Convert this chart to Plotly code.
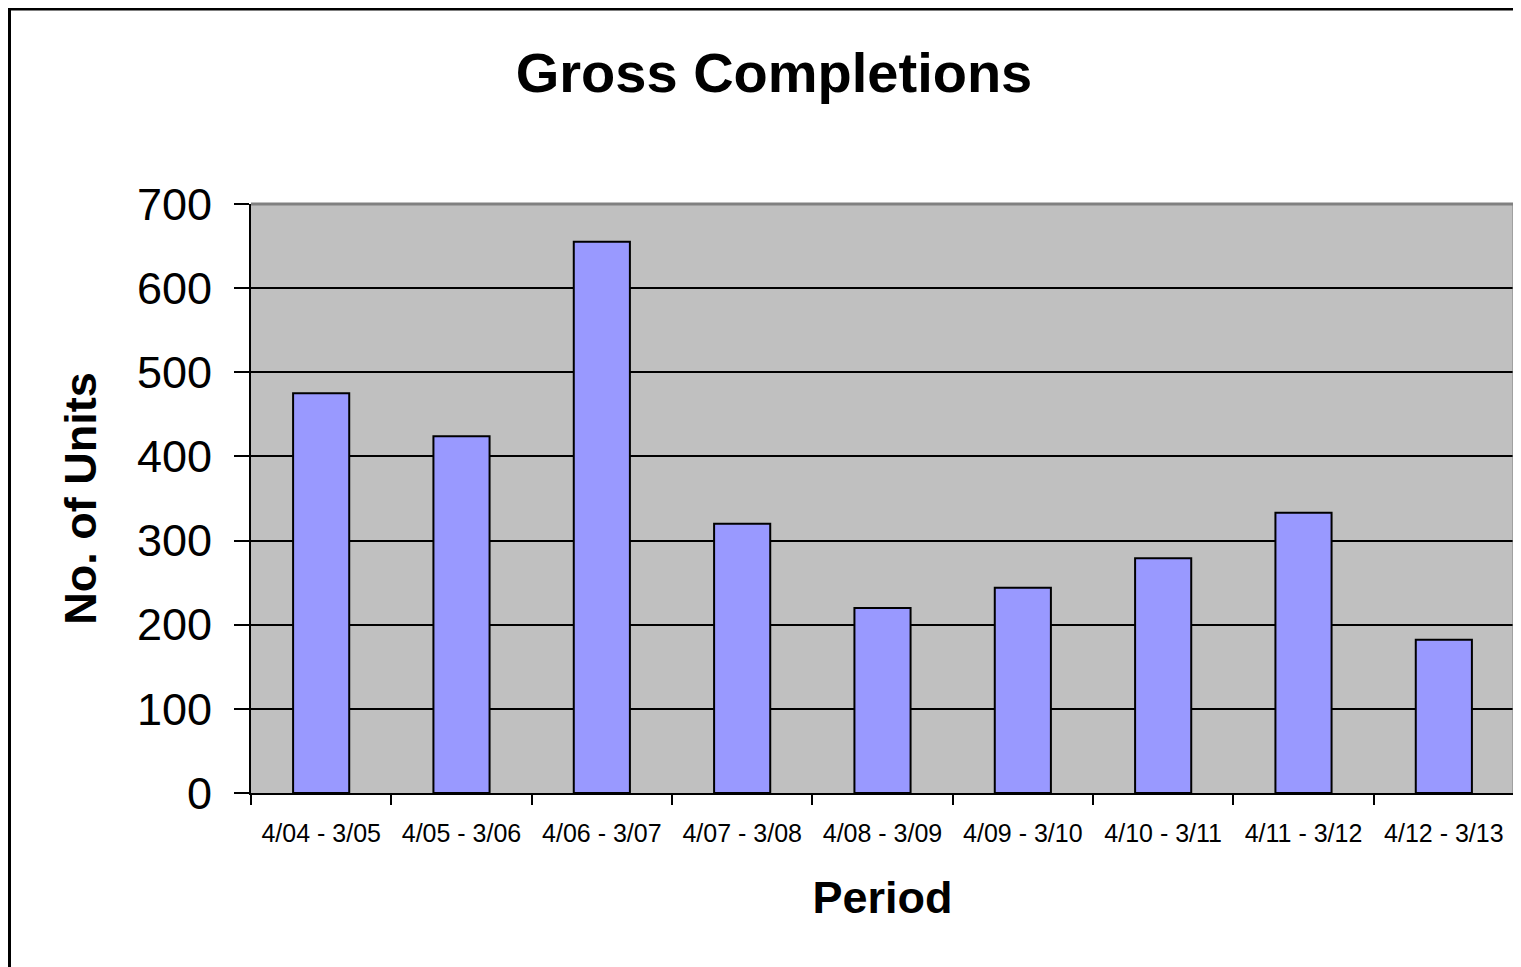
import plotly.graph_objects as go

periods = ["4/04 - 3/05", "4/05 - 3/06", "4/06 - 3/07", "4/07 - 3/08", "4/08 - 3/09",
           "4/09 - 3/10", "4/10 - 3/11", "4/11 - 3/12", "4/12 - 3/13"]
units = [475, 424, 655, 320, 220, 244, 279, 333, 182]
y_ticks = [0, 100, 200, 300, 400, 500, 600, 700]

FONT = "Arial, Liberation Sans, sans-serif"
W, H = 1513, 959  # page body has an 8px margin

fig = go.Figure()
fig.add_trace(go.Bar(
    x=periods, y=units,
    marker=dict(color="#9999FF", line=dict(color="black", width=2)),
    width=0.4,
))

fig.update_layout(
    width=W, height=H,
    margin=dict(l=243, r=7, t=196, b=174),
    paper_bgcolor="white",
    plot_bgcolor="#C0C0C0",
    showlegend=False,
    font=dict(family=FONT, color="black"),
    title=dict(text="<b>Gross Completions</b>", font=dict(size=56, family=FONT, color="black"),
               x=766 / W, xref="container", xanchor="center",
               y=1 - 64 / H, yref="container", yanchor="middle"),
    bargap=0.6,
)

fig.update_xaxes(
    type="category",
    showline=True, linecolor="black", linewidth=2,
    ticks="outside", ticklen=10, tickwidth=2, tickcolor="black",
    tickson="boundaries",
    tickfont=dict(size=25, family=FONT, color="black"),
    ticklabelstandoff=17,
    showgrid=False,
    title=dict(text="<b>Period</b>", font=dict(size=45, family=FONT, color="black"), standoff=35),
)
fig.update_yaxes(
    range=[0, 700],
    tickvals=y_ticks,
    showline=True, linecolor="black", linewidth=2,
    ticks="outside", ticklen=15, tickwidth=2, tickcolor="black",
    tickfont=dict(size=45, family=FONT, color="black"),
    ticklabelstandoff=13,
    showgrid=True, gridcolor="black", gridwidth=2,
    zeroline=False,
    title=dict(text="<b>No. of Units</b>", font=dict(size=45, family=FONT, color="black"), standoff=26),
)

pw, ph = W - 243 - 7, H - 196 - 174
# top and right plot-area border in gray
fig.add_shape(type="line", xref="paper", yref="paper", x0=0, x1=1, y0=1, y1=1,
              line=dict(color="#808080", width=3), layer="above")
fig.add_shape(type="line", xref="paper", yref="paper", x0=1, x1=1, y0=0, y1=1,
              line=dict(color="#808080", width=3), layer="above")
# chart outer border
fig.add_shape(type="rect", xref="paper", yref="paper",
              x0=(1.5 - 243) / pw, x1=1.2, y0=-0.5, y1=1 + (196 - 1) / ph,
              line=dict(color="black", width=3), fillcolor="rgba(0,0,0,0)", layer="above")

fig.write_html("out.html")
